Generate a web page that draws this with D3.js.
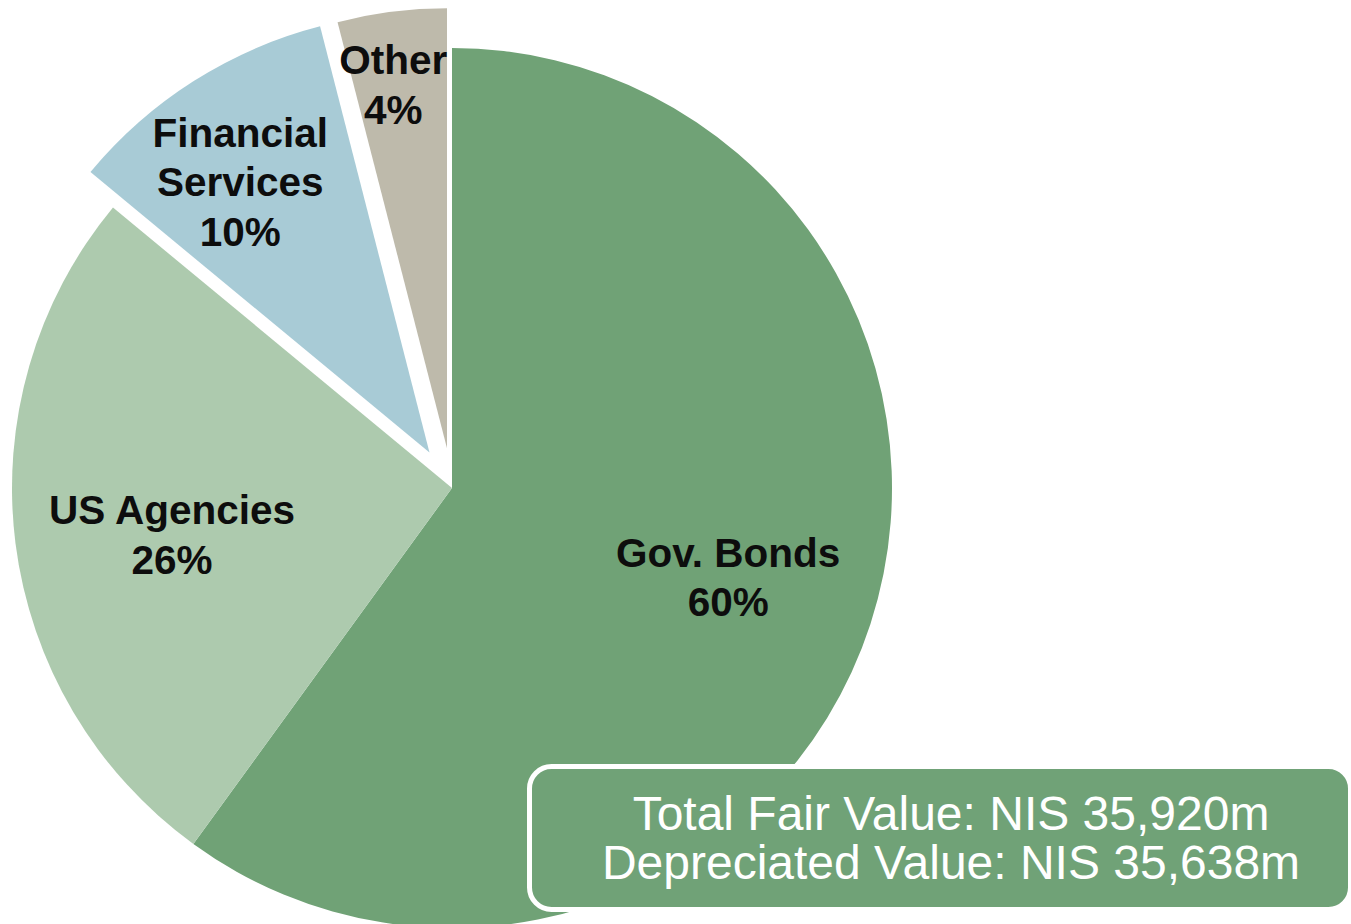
<!DOCTYPE html>
<html>
<head>
<meta charset="utf-8">
<script src="https://cdn.jsdelivr.net/npm/d3@7"></script>
<style>
  html, body { margin: 0; padding: 0; background: #fff; }
  svg { display: block; }
</style>
</head>
<body>
<svg id="chart" width="1351" height="924"></svg>
<script>
// Portfolio composition by sector (share of total fair value, %)
const categories = ["Gov. Bonds", "US Agencies", "Financial Services", "Other"];
const shares = [60, 26, 10, 4];
const sliceLabels = [["Gov. Bonds", "60%"], ["US Agencies", "26%"], ["Financial", "Services", "10%"], ["Other", "4%"]];
const summaryLines = ["Total Fair Value: NIS 35,920m", "Depreciated Value: NIS 35,638m"];

// Drawing settings
const colors = { "Gov. Bonds": "#70a276", "US Agencies": "#adcaae", "Financial Services": "#a8cbd6", "Other": "#bebaab" };
const exploded = { "Financial Services": 42, "Other": 40 };
const labelRadiusFactor = { "Gov. Bonds": 0.66, "US Agencies": 0.645, "Financial Services": 0.75, "Other": 0.835 };
const labelAngleShift = { "Gov. Bonds": 0, "US Agencies": -2.3, "Financial Services": -2.6, "Other": -1.2 };

const svg = d3.select("#chart");
const cx = 452, cy = 488, R = 440;

const pie = d3.pie().sort(null).value(d => d.value);
const arcs = pie(categories.map((c, i) => ({ name: c, value: shares[i], label: sliceLabels[i] })));
const arc = d3.arc().innerRadius(0).outerRadius(R);

const g = svg.append("g").attr("transform", `translate(${cx},${cy})`);

function offsetOf(d) {
  const off = exploded[d.data.name] || 0;
  const mid = (d.startAngle + d.endAngle) / 2;
  return [Math.sin(mid) * off, -Math.cos(mid) * off];
}

const slice = g.selectAll("g.slice").data(arcs).join("g")
  .attr("class", "slice")
  .attr("transform", d => { const [dx, dy] = offsetOf(d); return `translate(${dx},${dy})`; });

slice.append("path")
  .attr("d", arc)
  .attr("fill", d => colors[d.data.name]);

// Slice labels
const lineH = 49.5;
slice.each(function(d) {
  const name = d.data.name;
  const r = R * labelRadiusFactor[name];
  const mid = (d.startAngle + d.endAngle) / 2 + labelAngleShift[name] * Math.PI / 180;
  const x = Math.sin(mid) * r, y = -Math.cos(mid) * r;
  const lines = d.data.label;
  const t = d3.select(this).append("text")
    .attr("text-anchor", "middle")
    .attr("font-family", "Liberation Sans, Arial, sans-serif")
    .attr("font-weight", "bold")
    .attr("font-size", 40.5)
    .attr("fill", "#0d0d0d");
  lines.forEach((ln, i) => {
    t.append("tspan")
      .attr("x", x)
      .attr("y", y + (i - (lines.length - 1) / 2) * lineH + 14)
      .text(ln);
  });
});

// Summary box
const box = svg.append("g");
box.append("rect")
  .attr("x", 529.5).attr("y", 766.5)
  .attr("width", 821).attr("height", 143)
  .attr("rx", 22).attr("ry", 22)
  .attr("fill", "#70a277")
  .attr("stroke", "#ffffff")
  .attr("stroke-width", 5);

box.append("text")
  .attr("text-anchor", "middle")
  .attr("font-family", "Liberation Sans, Arial, sans-serif")
  .attr("font-size", 48)
  .attr("fill", "#ffffff")
  .selectAll("tspan").data(summaryLines).join("tspan")
  .attr("x", 951)
  .attr("y", (d, i) => 830 + i * 49)
  .text(d => d);
</script>
</body>
</html>
